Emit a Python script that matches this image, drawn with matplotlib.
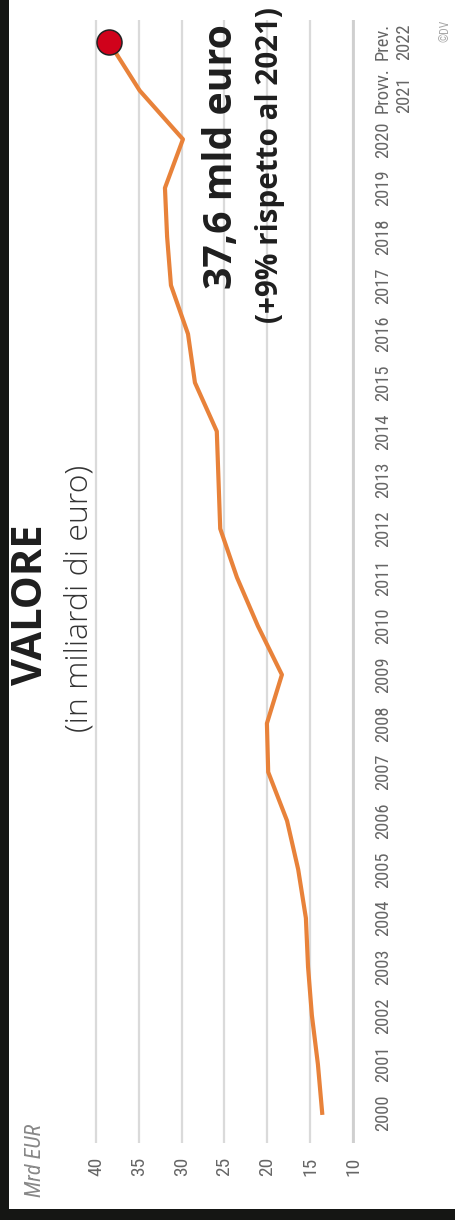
import matplotlib
matplotlib.use("Agg")
import matplotlib.pyplot as plt
from matplotlib.patches import Rectangle
from matplotlib import font_manager as fm

# ---- data ----
years = list(range(2000, 2023))
values = [13.6, 14.1, 14.8, 15.25, 15.5, 16.4, 17.7, 19.9, 20.05, 18.3, 21.1, 23.55,
          25.5, 25.7, 25.9, 28.45, 29.26, 31.25, 31.7, 31.95, 29.85, 34.9, 38.5]
year_labels = [str(y) for y in range(2000, 2021)] + ["Provv.\n2021", "Prev.\n2022"]
value_ticks = [40, 35, 30, 25, 20, 15, 10]
value_labels = [str(v) for v in value_ticks]
title = "VALORE"
subtitle = "(in miliardi di euro)"
unit_label = "Mrd EUR"
highlight = "37,6 mld euro"
highlight_sub = "(+9% rispetto al 2021)"
credit = "©DV"

W, H = 456, 1220
def fx(px):
    return px / W
def fy(py):
    return 1 - py / H

# ---- find a condensed font if one is installed ----
def find_condensed(style="normal"):
    best = None
    for f in fm.fontManager.ttflist:
        nm = f.name.lower()
        fname = f.fname.lower()
        cond = ("narrow" in nm or "condensed" in nm or "narrow" in fname or "condensed" in fname
                or str(f.stretch) in ("condensed", "semi-condensed", "extra-condensed"))
        if not cond:
            continue
        if f.weight not in (400, "normal", "regular", "book"):
            continue
        if f.style != style:
            continue
        if "mono" in nm or "serif" in nm and "sans" not in nm:
            continue
        best = f.fname
        if "liberation" in nm or "roboto" in nm:
            break
    return best

cond_file = find_condensed("normal")
cond_it_file = find_condensed("italic") or cond_file
if cond_file:
    TICK_FP = fm.FontProperties(fname=cond_file, size=14)
    YEAR_FP = fm.FontProperties(fname=cond_file, size=13.3)
    UNIT_FP = fm.FontProperties(fname=cond_it_file, size=16)
    CRED_FP = fm.FontProperties(fname=cond_file, size=8.5)
else:
    TICK_FP = fm.FontProperties(family=["Liberation Sans", "DejaVu Sans"], size=12)
    YEAR_FP = fm.FontProperties(family=["Liberation Sans", "DejaVu Sans"], size=10.3)
    UNIT_FP = fm.FontProperties(family=["Liberation Sans", "DejaVu Sans"], style="italic", size=13)
    CRED_FP = fm.FontProperties(family=["Liberation Sans", "DejaVu Sans"], size=7.5)

SANS = ["Open Sans", "DejaVu Sans"]

fig = plt.figure(figsize=(W / 100, H / 100), dpi=100)
fig.patch.set_facecolor("white")

left_px, right_px = 91.7, 357.3
top_px, bot_px = 20, 1143
ax = fig.add_axes([fx(left_px), fy(bot_px), (right_px - left_px) / W, (bot_px - top_px) / H])
ax.set_xlim(40.5, 9.5)
ax.set_ylim(1999.38, 2022.45)
ax.set_facecolor("white")
for s in ax.spines.values():
    s.set_visible(False)

ax.set_xticks(value_ticks)
ax.set_xticklabels(value_labels, rotation=90, fontproperties=TICK_FP, color="#666666")
ax.tick_params(axis="x", length=0, pad=10)
ax.grid(axis="x", color="#dadada", lw=1.6)
ax.set_axisbelow(True)
ax.axvline(10, color="#cfcfcf", lw=2, zorder=1)

ax.yaxis.tick_right()
ax.set_yticks(years)
ax.set_yticklabels(year_labels, rotation=90, fontproperties=YEAR_FP, color="#666666",
                   va="center", multialignment="left")
ax.tick_params(axis="y", length=0, pad=12)
ax.grid(axis="y", visible=False)

ax.plot(values, years, color="#E8823A", lw=3, solid_joinstyle="round", zorder=3)
ax.plot([values[-1]], [years[-1]], "o", ms=18, mfc="#D0021B", mec="#222222", mew=1.1, zorder=4)

# texts
fig.text(fx(32), fy(605), title, rotation=90, ha="center", va="center",
         family=SANS, fontweight="bold", fontsize=30, color="#1e1e1e")
fig.text(fx(80), fy(598), subtitle, rotation=90, ha="center", va="center",
         family=SANS, fontweight="light", fontsize=23, color="#333333")
fig.text(fx(222), fy(157), highlight, rotation=90, ha="center", va="center",
         family=SANS, fontweight="bold", fontsize=28.3, color="#1e1e1e")
fig.text(fx(270), fy(165), highlight_sub, rotation=90, ha="center", va="center",
         family=SANS, fontweight="bold", fontsize=21.3, color="#1e1e1e")
fig.text(fx(36), fy(1160), unit_label, rotation=90, ha="center", va="center",
         fontproperties=UNIT_FP, color="#888888")
fig.text(fx(445), fy(31), credit, rotation=90, ha="center", va="center",
         fontproperties=CRED_FP, color="#aaaaaa")

# black frame
fig.add_artist(Rectangle((0, 0), fx(9), 1, transform=fig.transFigure,
                         facecolor="#151614", edgecolor="none", zorder=10))
fig.add_artist(Rectangle((0, 0), 1, 11 / H, transform=fig.transFigure,
                         facecolor="#151614", edgecolor="none", zorder=10))

fig.savefig("out.png", dpi=100, facecolor="white")
